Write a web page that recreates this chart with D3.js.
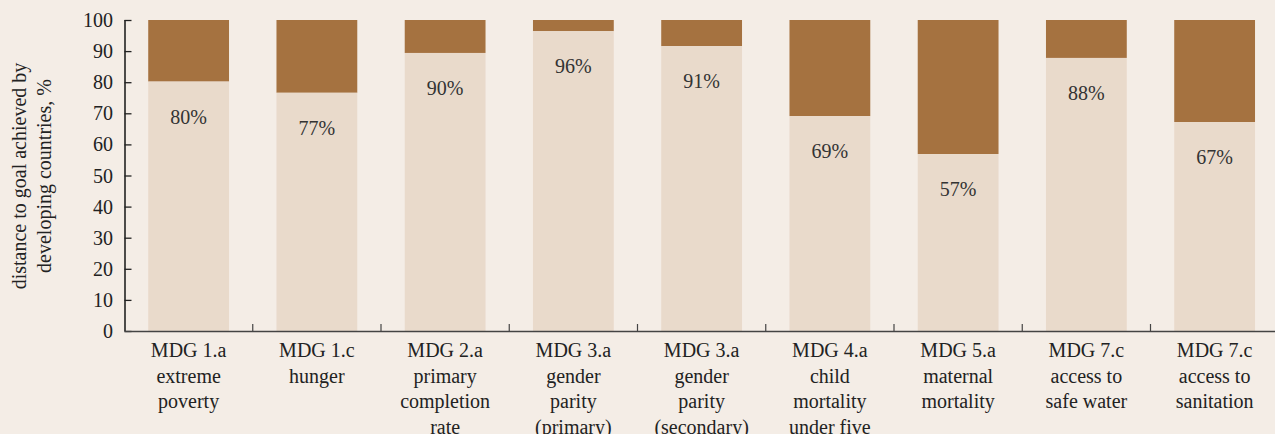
<html>
<head>
<style>
  body { margin: 0; background: #f4ede6; }
  svg { display: block; }
  svg text { font-family: "Liberation Serif", "Times New Roman", Times, "DejaVu Serif", serif; }
</style>
</head>
<body>
<svg id="chart" width="1275" height="434"></svg>
<script src="https://cdn.jsdelivr.net/npm/d3@7"></script>
<script>
// data
let goals = [
  ["MDG 1.a", "extreme", "poverty"],
  ["MDG 1.c", "hunger"],
  ["MDG 2.a", "primary", "completion", "rate"],
  ["MDG 3.a", "gender", "parity", "(primary)"],
  ["MDG 3.a", "gender", "parity", "(secondary)"],
  ["MDG 4.a", "child", "mortality", "under five"],
  ["MDG 5.a", "maternal", "mortality"],
  ["MDG 7.c", "access to", "safe water"],
  ["MDG 7.c", "access to", "sanitation"]
]
let achieved = [80.2, 76.6, 89.4, 96.4, 91.6, 69.1, 56.9, 87.8, 67.2]
let shownPct = ["80%", "77%", "90%", "96%", "91%", "69%", "57%", "88%", "67%"]
let yTicks = [0, 10, 20, 30, 40, 50, 60, 70, 80, 90, 100]

let svg = d3.select("#chart")
let plotLeft = 124.5, plotTop = 20, plotBottom = 331
let fontSize = 20

let x = d3.scaleBand()
  .domain(d3.range(goals.length))
  .range([plotLeft, plotLeft + 128.25 * goals.length])
  .paddingInner(0.37).paddingOuter(0.185)

let y = d3.scaleLinear().domain([0, 100]).range([plotBottom, plotTop])

let body = svg.append("g")

// remaining part (dark) then achieved part (light)
body.selectAll("rect.rest").data(achieved).enter().append("rect")
  .attr("x", (d, i) => x(i))
  .attr("width", x.bandwidth())
  .attr("y", y(100))
  .attr("height", d => y(d) - y(100))
  .attr("fill", "#a57240")

body.selectAll("rect.done").data(achieved).enter().append("rect")
  .attr("x", (d, i) => x(i))
  .attr("width", x.bandwidth())
  .attr("y", d => y(d))
  .attr("height", d => y(0) - y(d))
  .attr("fill", "#e9dacb")

body.selectAll("text.pct").data(achieved).enter().append("text")
  .attr("x", (d, i) => x(i) + x.bandwidth() / 2)
  .attr("y", d => y(d) + 42)
  .attr("text-anchor", "middle")
  .attr("font-size", fontSize)
  .attr("fill", "#333")
  .text((d, i) => shownPct[i])

// y axis
let yAxis = svg.append("g")
  .attr("transform", `translate(${plotLeft},0)`)
  .call(d3.axisRight(y).tickValues(yTicks).tickSize(7).tickFormat(""))
yAxis.select(".domain").attr("d", `M0.5,${plotTop}V${plotBottom}`).attr("stroke", "#222").attr("stroke-width", 1.6)
yAxis.selectAll(".tick line").attr("stroke", "#222").attr("stroke-width", 1.3)

svg.append("g").selectAll("text").data(yTicks).enter().append("text")
  .attr("x", 113)
  .attr("y", d => y(d) + 7)
  .attr("text-anchor", "end")
  .attr("font-size", fontSize)
  .attr("fill", "#222")
  .text(d => d)

// x axis with ticks at band boundaries
svg.append("line")
  .attr("x1", plotLeft).attr("x2", 1275)
  .attr("y1", plotBottom + 0.5).attr("y2", plotBottom + 0.5)
  .attr("stroke", "#444").attr("stroke-width", 1.5)

let step = x.step()
svg.append("g").selectAll("line").data(d3.range(1, goals.length)).enter().append("line")
  .attr("x1", d => plotLeft + d * step).attr("x2", d => plotLeft + d * step)
  .attr("y1", plotBottom).attr("y2", plotBottom - 7)
  .attr("stroke", "#444").attr("stroke-width", 1.2)

let xl = svg.append("g").selectAll("text").data(goals).enter().append("text")
  .attr("text-anchor", "middle")
  .attr("font-size", fontSize)
  .attr("fill", "#222")
xl.selectAll("tspan").data((d, i) => d.map(s => ({s: s, i: i}))).enter().append("tspan")
  .attr("x", d => x(d.i) + x.bandwidth() / 2)
  .attr("y", (d, j) => 357 + j * 25.7)
  .text(d => d.s)

// y title
svg.append("text")
  .attr("transform", "translate(26,176) rotate(-90)")
  .attr("text-anchor", "middle")
  .attr("font-size", fontSize)
  .attr("fill", "#222")
  .selectAll("tspan").data(["distance to goal achieved by", "developing countries, %"]).enter().append("tspan")
  .attr("x", 0)
  .attr("y", (d, j) => j * 25)
  .text(d => d)
</script>
</body>
</html>
